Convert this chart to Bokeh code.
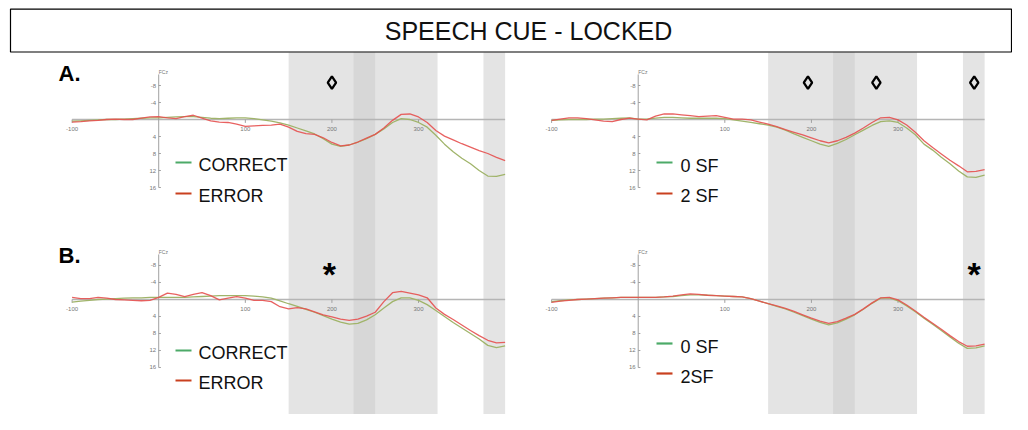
from bokeh.plotting import figure
from bokeh.models import Range1d
from bokeh.core.properties import value
from bokeh.embed import file_html
from bokeh.resources import INLINE

# ---------------- data ----------------
TIME = list(range(-100, 401, 10))

A_CORRECT = [0.4, 0.3, 0.2, 0.1, 0.0, 0.0, -0.1, -0.2, -0.3, -0.4,
             -0.4, -0.5, -0.6, -0.7, -0.7, -0.5, -0.3, -0.2, -0.3, -0.4,
             -0.4, -0.2, 0.1, 0.4, 0.8, 1.3, 2.0, 2.7, 3.4, 4.5,
             5.8, 6.3, 6.0, 5.3, 4.5, 3.5, 2.2, 0.7, -0.2, 0.0,
             0.7, 1.8, 3.7, 5.8, 7.6, 9.1, 10.4, 12.0, 13.3, 13.4,
             12.9]
A_ERROR = [0.6, 0.5, 0.3, 0.2, 0.0, -0.1, 0.0, 0.0, -0.3, -0.6,
           -0.7, -0.4, -0.2, -0.7, -1.0, -0.3, 0.3, 0.6, 0.7, 1.1,
           1.6, 1.5, 1.4, 1.3, 1.1, 1.8, 2.8, 3.3, 3.5, 4.3,
           5.4, 6.2, 6.0, 5.3, 4.4, 3.5, 2.0, 0.2, -1.2, -1.3,
           -0.6, 0.7, 2.6, 3.9, 4.8, 5.7, 6.5, 7.3, 8.0, 8.9,
           9.7]
A_0SF = [0.2, 0.1, 0.0, 0.0, 0.0, -0.1, -0.1, -0.2, -0.3, -0.4,
         -0.1, -0.1, -0.3, -0.5, -0.5, -0.4, -0.3, -0.3, -0.3, -0.3,
         -0.2, 0.1, 0.4, 0.7, 1.0, 1.3, 1.8, 2.5, 3.4, 4.2,
         5.0, 5.8, 6.3, 5.6, 4.7, 3.6, 2.5, 1.4, 0.5, 0.3,
         0.7, 2.0, 3.6, 5.8, 7.2, 8.9, 10.4, 12.1, 13.5, 13.6,
         13.1]
A_2SF = [0.2, -0.1, -0.4, -0.4, -0.2, 0.1, 0.4, 0.5, 0.0, -0.3,
         -0.1, 0.1, -0.8, -1.3, -1.3, -1.1, -0.9, -0.7, -0.8, -0.9,
         -0.5, -0.1, -0.1, 0.1, 0.6, 1.1, 1.7, 2.4, 3.0, 3.6,
         4.3, 5.0, 5.5, 5.0, 4.2, 3.2, 2.0, 0.7, -0.4, -0.5,
         0.1, 1.3, 3.0, 5.0, 6.6, 8.1, 9.6, 10.9, 12.3, 12.2,
         11.8]
B_CORRECT = [0.6, 0.4, 0.2, 0.0, -0.1, -0.2, -0.3, -0.4, -0.4, -0.5,
             -0.5, -0.5, -0.5, -0.5, -0.6, -0.7, -0.8, -0.9, -0.9, -0.9,
             -0.9, -0.8, -0.6, -0.3, 0.3, 1.0, 1.6, 2.3, 3.0, 3.8,
             4.6, 5.3, 5.8, 5.6, 4.8, 3.6, 2.0, 0.5, -0.4, -0.4,
             0.2, 1.2, 2.6, 4.0, 5.4, 6.7, 8.0, 9.3, 10.8, 11.3,
             10.9]
B_ERROR = [-0.5, -0.2, -0.2, -0.5, -0.3, 0.0, 0.1, 0.2, 0.3, 0.2,
           -0.5, -1.5, -1.2, -0.7, -1.2, -1.6, -0.9, 0.1, -0.3, -0.7,
           -0.3, 0.2, 0.2, 0.5, 1.7, 2.2, 1.9, 2.2, 2.9, 3.6,
           4.1, 4.6, 4.9, 4.6, 3.9, 3.0, 0.5, -1.6, -1.9, -1.5,
           -1.1, -0.4, 2.0, 3.5, 4.7, 6.0, 7.3, 8.5, 9.6, 10.2,
           10.1]
B_0SF = [0.5, 0.3, 0.1, 0.0, -0.1, -0.2, -0.3, -0.4, -0.5, -0.5,
         -0.5, -0.5, -0.5, -0.6, -0.7, -0.9, -1.1, -1.1, -1.0, -0.9,
         -0.8, -0.7, -0.6, -0.2, 0.4, 1.0, 1.6, 2.2, 3.0, 3.8,
         4.6, 5.4, 6.0, 5.5, 4.6, 3.6, 2.3, 0.9, -0.3, -0.4,
         0.3, 1.5, 2.9, 4.4, 5.8, 7.3, 8.8, 10.3, 11.5, 11.4,
         10.9]
B_2SF = [0.7, 0.4, 0.2, 0.0, -0.1, -0.2, -0.3, -0.4, -0.5, -0.5,
         -0.5, -0.5, -0.5, -0.6, -0.8, -1.1, -1.3, -1.2, -1.0, -0.9,
         -0.8, -0.7, -0.6, -0.2, 0.4, 1.0, 1.5, 2.1, 2.8, 3.6,
         4.4, 5.1, 5.6, 5.2, 4.4, 3.5, 2.2, 0.8, -0.4, -0.5,
         0.1, 1.3, 2.7, 4.2, 5.6, 7.0, 8.5, 9.9, 11.0, 10.9,
         10.5]

X_TICKS = [-100, 100, 200, 300]
X_TICK_LABELS = ["-100", "100", "200", "300"]
Y_TICKS = [-8, -4, 4, 8, 12, 16]
Y_TICK_LABELS = ["-8", "-4", "4", "8", "12", "16"]
CHANNEL = "FCz"

BAND_LIGHT_START = [150, 375]
BAND_LIGHT_END = [322, 400]
BAND_DARK_START = [225]
BAND_DARK_END = [250]

DIAMONDS_A_LEFT = [200]
DIAMONDS_A_RIGHT = [196, 275, 388]
STARS_B_LEFT = [197]
STARS_B_RIGHT = [388]

TITLE = "SPEECH CUE - LOCKED"
LEGEND_LEFT = ["CORRECT", "ERROR"]
LEGEND_RIGHT_A = ["0 SF", "2 SF"]
LEGEND_RIGHT_B = ["0 SF", "2SF"]
ROW_LABELS = ["A.", "B."]

# ---------------- style ----------------
CURVE_GREEN = "#a0b46a"
CURVE_RED = "#e6504f"
KEY_GREEN = "#4caa68"
KEY_RED = "#c9401f"
BAND_LIGHT = "#e4e4e4"
BAND_DARK = "#d7d7d7"
FONT = "Liberation Sans"

# base ranges in picture pixels
p = figure(width=1012, height=414, output_backend="svg", toolbar_location=None,
           title=None, x_range=Range1d(0, 1012), y_range=Range1d(414, 0),
           x_axis_location=None, y_axis_location=None, min_border=0,
           outline_line_color=None, background_fill_color="white")
p.grid.visible = False

# data ranges of each panel, positioned over the frame
p.extra_x_ranges = {"L": Range1d(-182.7, 985.9), "R": Range1d(-736.4, 432.2)}
p.extra_y_ranges = {"T": Range1d(69.41, -28.0), "B": Range1d(27.06, -70.35)}

# shaded time windows (full height under the title box)
for xr in ["L", "R"]:
    p.quad(left=BAND_LIGHT_START, right=BAND_LIGHT_END, bottom=414, top=52,
           x_range_name=xr, fill_color=BAND_LIGHT, line_color=None)
    p.quad(left=BAND_DARK_START, right=BAND_DARK_END, bottom=414, top=52,
           x_range_name=xr, fill_color=BAND_DARK, line_color=None)

# title box
p.quad(left=[10], right=[1011], bottom=[51.5], top=[8.6], fill_color="white",
       line_color="black", line_width=1.2)
p.text(x=[528], y=[30], text=[TITLE], text_font=value(FONT), text_font_size="25px",
       text_align="center", text_baseline="middle", text_color="#111111")

panels = [
    ("L", "T", A_CORRECT, A_ERROR),
    ("R", "T", A_0SF, A_2SF),
    ("L", "B", B_CORRECT, B_ERROR),
    ("R", "B", B_0SF, B_2SF),
]

for xr, yr, g, r in panels:
    kw = dict(x_range_name=xr, y_range_name=yr)
    # zero line
    p.segment(x0=[-100], y0=[0], x1=[400], y1=[0], line_color="#b5b5b5", line_width=1.5, **kw)
    # y axis
    p.segment(x0=[0], y0=[-10.6], x1=[0], y1=[16], line_color="#a0a0a0", line_width=1, **kw)
    # ticks
    p.segment(x0=X_TICKS, y0=0, x1=X_TICKS, y1=0.8, line_color="#a0a0a0", line_width=1, **kw)
    p.segment(x0=0, y0=Y_TICKS, x1=2.5, y1=Y_TICKS, line_color="#a0a0a0", line_width=1, **kw)
    p.text(x=X_TICKS, y=2.2, text=X_TICK_LABELS, text_font=value(FONT), text_font_size="6px",
           text_align="center", text_baseline="middle", text_color="#777777", **kw)
    p.text(x=-3, y=Y_TICKS, text=Y_TICK_LABELS, text_font=value(FONT), text_font_size="6px",
           text_align="right", text_baseline="middle", text_color="#777777", **kw)
    p.text(x=[0], y=[-11.1], text=[CHANNEL], text_font=value(FONT), text_font_size="5px",
           text_align="left", text_baseline="middle", text_color="#777777", **kw)
    # waveforms
    p.line(TIME, g, line_color=CURVE_GREEN, line_width=1.3, **kw)
    p.line(TIME, r, line_color=CURVE_RED, line_width=1.3, line_alpha=0.9, **kw)

# significance markers
p.scatter(x=DIAMONDS_A_LEFT, y=-8.7, marker="diamond", size=12.5, fill_color=None,
          line_color="black", line_width=2.3, x_range_name="L", y_range_name="T")
p.scatter(x=DIAMONDS_A_RIGHT, y=-8.7, marker="diamond", size=12.5, fill_color=None,
          line_color="black", line_width=2.3, x_range_name="R", y_range_name="T")
p.text(x=STARS_B_LEFT, y=-6.1, text=["*"] * len(STARS_B_LEFT), text_font=value(FONT),
       text_font_size="34px", text_font_style="bold", text_align="center",
       text_baseline="middle", x_range_name="L", y_range_name="B")
p.text(x=STARS_B_RIGHT, y=-6.1, text=["*"] * len(STARS_B_RIGHT), text_font=value(FONT),
       text_font_size="34px", text_font_style="bold", text_align="center",
       text_baseline="middle", x_range_name="R", y_range_name="B")

# row labels
p.text(x=[58, 58], y=[73, 255], text=ROW_LABELS, text_font=value(FONT), text_font_size="22px",
       text_font_style="bold", text_align="left", text_baseline="middle", text_color="black")

# legends
def legend(x_line, x_text, ys_line, ys_text, labels):
    p.segment(x0=[x_line] * 2, y0=ys_line, x1=[x_line + 16] * 2, y1=ys_line,
              line_color=[KEY_GREEN, KEY_RED], line_width=2.2)
    p.text(x=[x_text] * 2, y=ys_text, text=labels, text_font=value(FONT), text_font_size="18px",
           text_align="left", text_baseline="middle", text_color="#111111")

legend(175, 198, [162, 193], [164.5, 195], LEGEND_LEFT)
legend(175, 198, [350, 380], [352, 382], LEGEND_LEFT)
legend(656, 680, [162, 193], [165, 195], LEGEND_RIGHT_A)
legend(656, 680, [343, 373], [346, 376], LEGEND_RIGHT_B)

open("out.html", "w").write(file_html(p, INLINE))
